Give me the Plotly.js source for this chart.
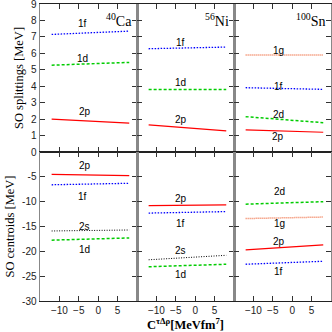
<!DOCTYPE html>
<html><head><meta charset="utf-8">
<script src="https://cdn.plot.ly/plotly-3.0.1.min.js"></script>
<style>html,body{margin:0;padding:0;background:#fff}#plot{width:332px;height:332px}</style>
</head><body><div id="plot"></div>
<script>
// x: C^{tau Delta rho} [MeV fm^7]
const xC = [-12, 8];
const nuclei = ['<sup>40</sup>Ca', '<sup>56</sup>Ni', '<sup>100</sup>Sn'];
const xTicks = [-10, -5, 0, 5];

// SO splittings [MeV]
const caSplit1f = [7.15, 7.35];
const caSplit1d = [5.28, 5.45];
const caSplit2p = [2.0, 1.75];
const niSplit1f = [6.28, 6.38];
const niSplit1d = [3.8, 3.8];
const niSplit2p = [1.65, 1.28];
const snSplit1g = [5.9, 5.9];
const snSplit1f = [3.91, 3.81];
const snSplit2d = [2.15, 1.78];
const snSplit2p = [1.34, 1.2];

// SO centroids [MeV]
const caCent2p = [-4.5, -4.75];
const caCent1f = [-6.6, -6.3];
const caCent2s = [-15.9, -15.7];
const caCent1d = [-17.75, -17.3];
const niCent2p = [-10.8, -10.65];
const niCent1f = [-12.3, -12.0];
const niCent2s = [-21.7, -20.8];
const niCent1d = [-23.1, -22.6];
const snCent2d = [-10.5, -10.0];
const snCent1g = [-13.4, -13.1];
const snCent2p = [-19.7, -18.7];
const snCent1f = [-22.6, -22.0];

const styles = {
  '2p': {color: '#ff0000', dash: 'solid', width: 1.2},
  '1f': {color: '#0000ff', dash: '1.5px,1.5px', width: 1.3},
  '1d': {color: '#00cc00', dash: '3px,2px', width: 1.5},
  '2d': {color: '#00cc00', dash: '3px,2px', width: 1.5},
  '2s': {color: '#000000', dash: '1px,1.5px', width: 1},
  '1g': {color: '#f07850', dash: '1px,1px', width: 1.5}
};

const series = [
  ['1f', caSplit1f, 1], ['1d', caSplit1d, 1], ['2p', caSplit2p, 1],
  ['1f', niSplit1f, 2], ['1d', niSplit1d, 2], ['2p', niSplit2p, 2],
  ['1g', snSplit1g, 3], ['1f', snSplit1f, 3], ['2d', snSplit2d, 3], ['2p', snSplit2p, 3],
  ['2p', caCent2p, 4], ['1f', caCent1f, 4], ['2s', caCent2s, 4], ['1d', caCent1d, 4],
  ['2p', niCent2p, 5], ['1f', niCent1f, 5], ['2s', niCent2s, 5], ['1d', niCent1d, 5],
  ['2d', snCent2d, 6], ['1g', snCent1g, 6], ['2p', snCent2p, 6], ['1f', snCent1f, 6]
];

// label positions (x, y) per panel
const labels = [
  ['1f', 1, -4, 7.8], ['1d', 1, -4, 5.7], ['2p', 1, -3.5, 2.45],
  ['1f', 2, -3.8, 6.65], ['1d', 2, -3.8, 4.2], ['2p', 2, -3.7, 2.0],
  ['1g', 3, -3.6, 6.2], ['1f', 3, -3.6, 4.0], ['2d', 3, -3.6, 2.3], ['2p', 3, -3.6, 0.97],
  ['2p', 4, -3.5, -2.7], ['1f', 4, -4, -9.05], ['2s', 4, -3.5, -15.0], ['1d', 4, -3.5, -19.6],
  ['2p', 5, -3.7, -9.46], ['1f', 5, -3.8, -14.3], ['2s', 5, -3.8, -19.85], ['1d', 5, -3.7, -24.6],
  ['2d', 6, -3.4, -7.9], ['1g', 6, -3.4, -14.45], ['2p', 6, -3.4, -18.0], ['1f', 6, -3.6, -24.1]
];

const sfx = i => (i === 1 ? '' : String(i));
const traces = series.map(([lab, ys, p]) => ({
  x: xC, y: ys, type: 'scatter', mode: 'lines',
  xaxis: 'x' + sfx(p), yaxis: 'y' + sfx(p),
  line: styles[lab], showlegend: false, hoverinfo: 'skip'
}));

const annotations = labels.map(([t, p, x, y]) => ({
  text: t, x: x, y: y, xref: 'x' + sfx(p), yref: 'y' + sfx(p),
  showarrow: false, font: {family: 'Liberation Sans, Arial', size: 10, color: '#000'}
}));
nuclei.forEach((n, i) => annotations.push({
  text: n, x: 9.3, y: 8.05, xref: 'x' + sfx(i + 1), yref: 'y' + sfx(i + 1),
  xanchor: 'right', showarrow: false,
  font: {family: 'Liberation Serif, Times New Roman', size: 14, color: '#000'}
}));

const base = {showline: true, mirror: 'ticks', ticks: 'inside', ticklen: 5, tickwidth: 1,
  tickcolor: '#333', showgrid: false, zeroline: false, ticklabeloverflow: 'allow',
  tickfont: {family: 'Liberation Sans, Arial', size: 10, color: '#222'}};

const split = 149 / 297;
const layout = {
  width: 332, height: 332,
  margin: {l: 40, r: 1, t: 4, b: 31},
  paper_bgcolor: '#fff', plot_bgcolor: '#fff',
  showlegend: false,
  annotations: annotations
};
for (let p = 1; p <= 6; p++) {
  const col = (p - 1) % 3, top = p <= 3;
  layout['xaxis' + sfx(p)] = Object.assign({}, base, {
    linecolor: '#222', linewidth: 1,
    domain: [col / 3, (col + 1) / 3], range: [-15, 10], tickvals: xTicks,
    showticklabels: !top, anchor: 'y' + sfx(p)
  });
  layout['yaxis' + sfx(p)] = Object.assign({}, base, {
    linecolor: '#888', linewidth: 1.5,
    domain: top ? [split, 1] : [0, split],
    range: top ? [0, 9] : [-30, 0],
    tickvals: top ? [0,1,2,3,4,5,6,7,8,9] : [-30,-25,-20,-15,-10,-5,0],
    ticktext: top ? ['0','1','2','3','4','5','6','7','8','9'] : ['-30','-25','-20','-15','-10','-5',''],
    showticklabels: col === 0, anchor: 'x' + sfx(p)
  });
}
const serif = {family: 'Liberation Serif, Times New Roman', size: 12.5, color: '#000'};
layout.yaxis.title = {text: 'SO splittings [MeV]', standoff: 4, font: serif};
layout.yaxis4.title = {text: 'SO centroids [MeV]', standoff: 4, font: serif};
layout.xaxis5.title = {text: '<b>C<sup>τΔρ</sup>[MeVfm<sup>7</sup>]</b>', standoff: 2, font: serif};

Plotly.newPlot('plot', traces, layout, {displayModeBar: false, staticPlot: true});
</script></body></html>
